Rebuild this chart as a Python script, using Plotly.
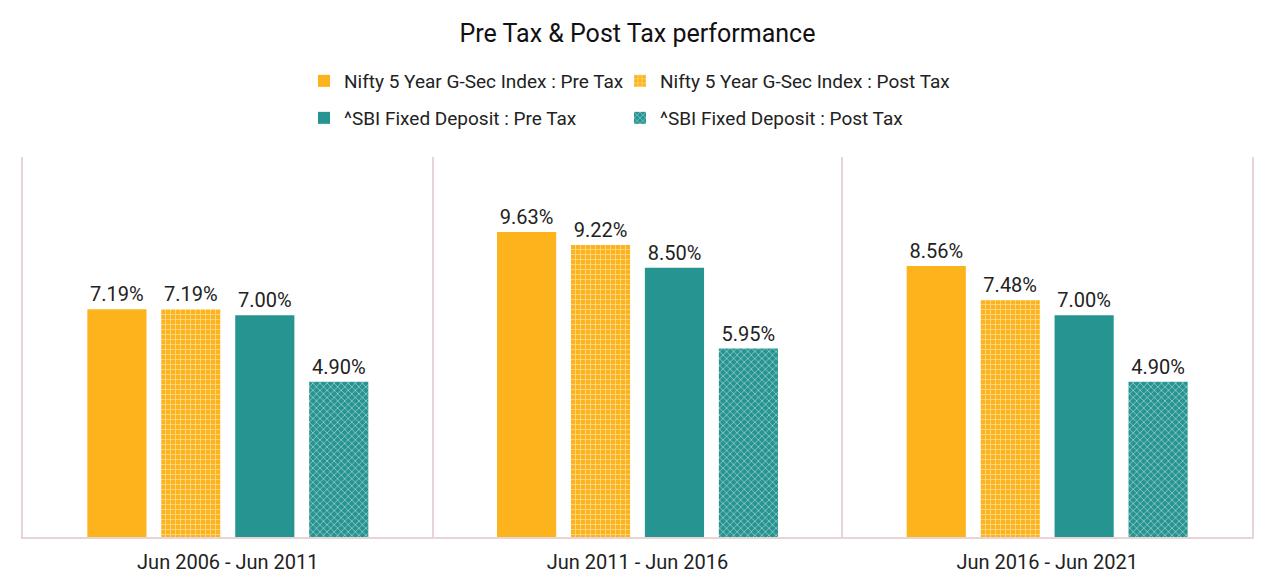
import plotly.graph_objects as go

categories = ["Jun 2006 - Jun 2011", "Jun 2011 - Jun 2016", "Jun 2016 - Jun 2021"]
nifty_pre = [7.19, 9.63, 8.56]
nifty_post = [7.19, 9.22, 7.48]
sbi_pre = [7.00, 8.50, 7.00]
sbi_post = [4.90, 5.95, 4.90]

ORANGE = "#FDB31C"
TEAL = "#269591"
GRID = "#E8D4D7"
FONT = "Roboto"

W, H = 1259, 571  # page body adds an 8px offset

series = [
    ("Nifty 5 Year G-Sec Index : Pre Tax", nifty_pre, ORANGE, None, "legend"),
    ("Nifty 5 Year G-Sec Index : Post Tax", nifty_post, ORANGE, "+", "legend2"),
    ("^SBI Fixed Deposit : Pre Tax", sbi_pre, TEAL, None, "legend3"),
    ("^SBI Fixed Deposit : Post Tax", sbi_post, TEAL, "x", "legend4"),
]

fig = go.Figure()
for name, vals, color, shape, lg in series:
    marker = dict(color=color, line=dict(width=0))
    if shape:
        marker["pattern"] = dict(shape=shape, fgcolor="white", bgcolor=color,
                                 fillmode="overlay", size=5, solidity=0.3)
    fig.add_trace(go.Bar(
        x=categories, y=vals, name=name, marker=marker,
        text=[f"{v:.2f}%" for v in vals], textposition="outside",
        textfont=dict(family=FONT, size=20, color="#222"),
        cliponaxis=False, legend=lg, showlegend=True,
    ))


def leg(xpx, ypx):
    return dict(orientation="h", xref="container", yref="container",
                x=xpx / W, xanchor="left", y=1 - ypx / H, yanchor="middle",
                bgcolor="rgba(0,0,0,0)",
                itemwidth=30, font=dict(family=FONT, size=19, color="#222"))


fig.update_layout(
    width=W, height=H, showlegend=True,
    paper_bgcolor="white", plot_bgcolor="white",
    margin=dict(l=15, r=15, t=149, b=42, autoexpand=False),
    title=dict(text="Pre Tax & Post Tax performance", x=0.5, xanchor="center",
               xref="container", yref="container",
               y=1 - 25 / H, yanchor="middle",
               font=dict(family=FONT, size=25, color="#111")),
    barmode="group", bargap=0.278, bargroupgap=0.2,
    font=dict(family=FONT, size=19, color="#222"),
    legend=leg(296, 73),
    legend2=leg(612, 73),
    legend3=leg(296, 110),
    legend4=leg(612, 110),
    xaxis=dict(tickson="boundaries", showgrid=True, gridcolor=GRID, gridwidth=2,
               showline=True, linecolor=GRID, linewidth=2, ticks="",
               automargin=False, ticklabelstandoff=6,
               tickfont=dict(family=FONT, size=20, color="#222")),
    yaxis=dict(range=[0, 12], showticklabels=False, showgrid=False, zeroline=False,
               showline=True, mirror=True, linecolor=GRID, linewidth=2,
               ticks="", automargin=False),
)

fig.write_html("out.html")
